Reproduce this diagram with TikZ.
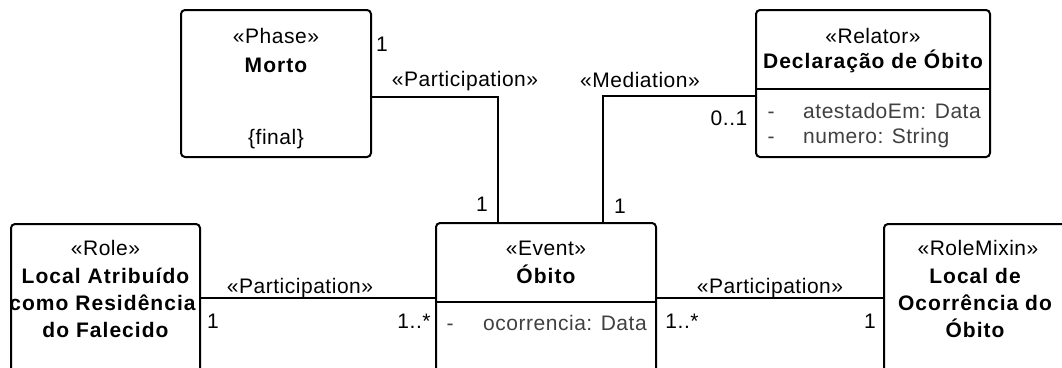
\documentclass[tikz,border=0pt]{standalone}
\usepackage{fontspec}
\setmainfont{Liberation Sans}[LetterSpace=2.5, BoldFeatures={LetterSpace=5}]
\definecolor{attrgray}{RGB}{64,64,64}
\tikzset{
  umlbox/.style={draw, line width=2pt, rounded corners=4pt, inner sep=0pt, outer sep=0pt},
  conn/.style={draw, line width=2pt},
  divider/.style={draw, line width=2pt},
  txt/.style={font=\fontsize{21}{25}\selectfont, inner sep=0pt, anchor=base},
  clsname/.style={txt, font=\fontsize{21}{25}\selectfont\bfseries},
  attr/.style={txt, text=attrgray},
  mult/.style={txt},
}
\begin{document}
\begin{tikzpicture}[x=1pt, y=-1pt]
\useasboundingbox (0,0) rectangle (1062,367);
\clip (0,0) rectangle (1062,367);

% class boxes
\node[umlbox, minimum width=190, minimum height=147] (morto) at (276,83.5) {};
\node[umlbox, minimum width=234, minimum height=147] (declaracao) at (873,83.5) {};
\node[umlbox, minimum width=220, minimum height=177] (obito) at (546,311.5) {};
\node[umlbox, minimum width=189, minimum height=176] (localres) at (105.5,312) {};
\node[umlbox, minimum width=184, minimum height=176] (localocc) at (976,312) {};

% compartment dividers
\coordinate (d1) at (0,89);
\coordinate (d2) at (0,302);
\draw[divider] (declaracao.west |- d1) -- (declaracao.east |- d1);
\draw[divider] (obito.west |- d2) -- (obito.east |- d2);

% associations
\coordinate (ym) at (0,97);
\coordinate (yr) at (0,96);
\coordinate (yh) at (0,298);
\draw[conn] (morto.east |- ym) -| ([xshift=-48pt]obito.north);
\draw[conn] (declaracao.west |- yr) -| ([xshift=57pt]obito.north);
\draw[conn] (localres.east |- yh) -- (obito.west |- yh);
\draw[conn] (obito.east |- yh) -- (localocc.west |- yh);

% Morto
\node[txt] (mortoS) at (276,43) {«Phase»};
\node[clsname] (mortoN) at (276,72) {Morto};
\node[txt] (mortoC) at (276,144) {\{final\}};

% Declaração de Óbito
\node[txt] (declS) at (873,43) {«Relator»};
\node[clsname] (declN) at (873,68) {Declaração de Óbito};
\node[attr] (declV1) at (771,118) {-};
\node[attr, anchor=base west] (declA1) at (803,118) {atestadoEm: Data};
\node[attr] (declV2) at (771,143) {-};
\node[attr, anchor=base west] (declA2) at (803,143) {numero: String};

% Óbito
\node[txt] (obitoS) at (546,255) {«Event»};
\node[clsname] (obitoN) at (546,283) {Óbito};
\node[attr] (obitoV) at (450,330) {-};
\node[attr, anchor=base west] (obitoA) at (483,330) {ocorrencia: Data};

% Local Atribuído como Residência do Falecido
\node[txt] (resS) at (105.5,255) {«Role»};
\node[clsname] (resN1) at (105.5,283) {Local Atribuído};
\node[clsname] (resN2) at (102.5,310) {como Residência};
\node[clsname] (resN3) at (105.5,337) {do Falecido};

% Local de Ocorrência do Óbito
\node[txt] (occS) at (978,255) {«RoleMixin»};
\node[clsname] (occN1) at (975,283) {Local de};
\node[clsname] (occN2) at (975,310) {Ocorrência do};
\node[clsname] (occN3) at (975,337) {Óbito};

% association labels
\node[txt] (lblPart1) at (465,86) {«Participation»};
\node[txt] (lblMed) at (640,87) {«Mediation»};
\node[txt] (lblPart2) at (300,293) {«Participation»};
\node[txt] (lblPart3) at (770,293) {«Participation»};

% multiplicities
\node[mult] (m1) at (382,51) {1};
\node[mult] (m2) at (482,211) {1};
\node[mult] (m3) at (620,213) {1};
\node[mult] (m4) at (729,125) {0..1};
\node[mult] (m5) at (213,328) {1};
\node[mult] (m6) at (414,328) {1..*};
\node[mult] (m7) at (682,328) {1..*};
\node[mult] (m8) at (870,328) {1};
\end{tikzpicture}
\end{document}
